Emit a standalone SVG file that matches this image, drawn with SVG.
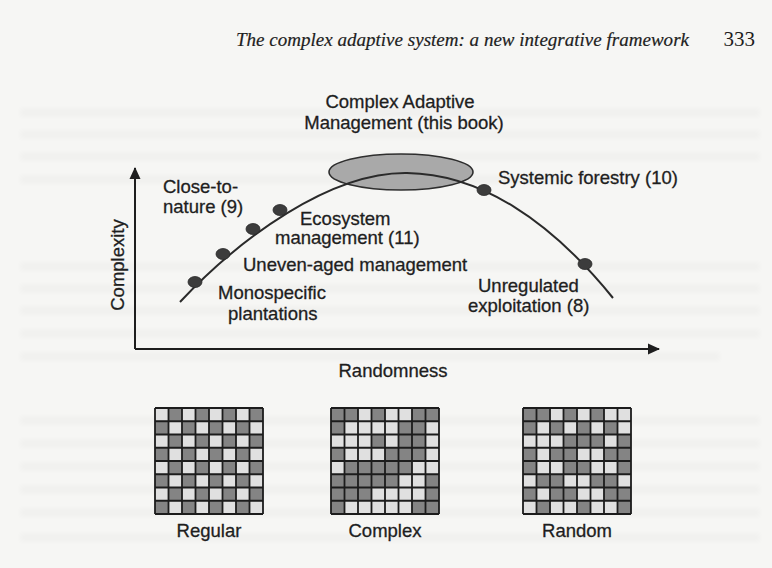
<svg xmlns="http://www.w3.org/2000/svg" xmlns:xlink="http://www.w3.org/1999/xlink" width="772" height="568" viewBox="0 0 772 568">
  <style>
    .lbl { font-family: "Liberation Sans", Arial, sans-serif; font-size: 18.5px; fill: #1e1e1e; stroke: #1e1e1e; stroke-width: 0.3; }
    .hdr { font-family: "Liberation Serif", "Times New Roman", serif; font-style: italic; font-size: 19.5px; fill: #1e1e1e; stroke: #1e1e1e; stroke-width: 0.2; }
    .pg { font-family: "Liberation Serif", "Times New Roman", serif; font-size: 21px; fill: #1e1e1e; }
    .axis { stroke: #1e1e1e; stroke-width: 2; fill: none; }
    .curve { stroke: #2a2a2a; stroke-width: 2; fill: none; }
    .dot { fill: #3c3c3c; stroke: #2a2a2a; stroke-width: 0.8; }
    .dk { fill: #848484; }
    .lt { fill: #e0e0e0; }
    .gl { stroke: #1c1c1c; stroke-width: 1.8; fill: none; }
    .ghost { fill: #000; opacity: 0.018; }
  </style>
  <defs>
    <marker id="arrow" viewBox="0 0 12 12" refX="11" refY="6" markerWidth="12" markerHeight="12" markerUnits="userSpaceOnUse" orient="auto">
      <path d="M0,0.5 L12,6 L0,11.5 Z" fill="#1e1e1e"/>
    </marker>
    <pattern id="checker" x="0" y="0" width="27" height="26.5" patternUnits="userSpaceOnUse">
      <rect width="27" height="26.5" fill="#e0e0e0"/>
      <rect x="13.5" y="0" width="13.5" height="13.25" fill="#848484"/>
      <rect x="0" y="13.25" width="13.5" height="13.25" fill="#848484"/>
    </pattern>
    <path id="lines" class="gl" d="M0,0V106M13.5,0V106M27,0V106M40.5,0V106M54,0V106M67.5,0V106M81,0V106M94.5,0V106M108,0V106M0,0H108M0,13.25H108M0,26.5H108M0,39.75H108M0,53H108M0,66.25H108M0,79.5H108M0,92.75H108M0,106H108"/>
    <filter id="soft" x="-5%" y="-80%" width="110%" height="260%">
      <feGaussianBlur stdDeviation="2.4"/>
    </filter>
  </defs>

  <!-- paper -->
  <rect width="772" height="568" fill="#f6f6f4"/>

  <!-- faint show-through from the reverse side of the sheet -->
  <g class="ghost" filter="url(#soft)">
    <rect x="20" y="108" width="740" height="9"/>
    <rect x="20" y="130" width="740" height="9"/>
    <rect x="20" y="152" width="740" height="9"/>
    <rect x="20" y="175" width="600" height="9"/>
    <rect x="20" y="262" width="740" height="9"/>
    <rect x="20" y="284" width="740" height="9"/>
    <rect x="20" y="306" width="740" height="9"/>
    <rect x="20" y="329" width="740" height="9"/>
    <rect x="20" y="352" width="700" height="9"/>
    <rect x="20" y="416" width="740" height="9"/>
    <rect x="20" y="439" width="740" height="9"/>
    <rect x="20" y="462" width="740" height="9"/>
    <rect x="20" y="485" width="740" height="9"/>
    <rect x="20" y="508" width="740" height="9"/>
    <rect x="20" y="533" width="740" height="9"/>
  </g>

  <!-- running head -->
  <g id="running-head">
    <text class="hdr" x="236" y="46" textLength="453" lengthAdjust="spacingAndGlyphs">The complex adaptive system: a new integrative framework</text>
    <text class="pg" x="755" y="46" text-anchor="end">333</text>
  </g>

  <!-- axes -->
  <g id="axes">
    <path class="axis" d="M135,349 V168" marker-end="url(#arrow)"/>
    <path class="axis" d="M135,349 H659" marker-end="url(#arrow)"/>
    <text class="lbl" transform="translate(124,265) rotate(-90)" text-anchor="middle">Complexity</text>
    <text class="lbl" x="393" y="377" text-anchor="middle">Randomness</text>
  </g>

  <!-- complex adaptive management region -->
  <g id="cam">
    <ellipse cx="401" cy="172" rx="72" ry="18" fill="#a9a9a9" stroke="#2e2e2e" stroke-width="1.6"/>
    <text class="lbl" x="400" y="108" text-anchor="middle">Complex Adaptive</text>
    <text class="lbl" x="404" y="129" text-anchor="middle">Management (this book)</text>
  </g>

  <!-- connectors: the management trajectory -->
  <g id="connectors">
    <path class="curve" d="M180,302 C240,238 330,172 407,173 C480,174 550,220 613,298"/>
  </g>

  <!-- management types along the trajectory -->
  <g id="monospecific">
    <ellipse class="dot" cx="195" cy="282" rx="7" ry="5.5"/>
    <text class="lbl" x="218" y="299">Monospecific</text>
    <text class="lbl" x="228" y="320">plantations</text>
  </g>
  <g id="uneven-aged">
    <ellipse class="dot" cx="223" cy="254" rx="7" ry="5.5"/>
    <text class="lbl" x="243" y="271">Uneven-aged management</text>
  </g>
  <g id="close-to-nature">
    <ellipse class="dot" cx="253" cy="229" rx="7" ry="5.5"/>
    <text class="lbl" x="163" y="193">Close-to-</text>
    <text class="lbl" x="163" y="213">nature (9)</text>
  </g>
  <g id="ecosystem">
    <ellipse class="dot" cx="280" cy="210" rx="7" ry="5.5"/>
    <text class="lbl" x="300" y="225">Ecosystem</text>
    <text class="lbl" x="275" y="244">management (11)</text>
  </g>
  <g id="systemic">
    <ellipse class="dot" cx="484" cy="190" rx="7" ry="5.5"/>
    <text class="lbl" x="498" y="184">Systemic forestry (10)</text>
  </g>
  <g id="unregulated">
    <ellipse class="dot" cx="585" cy="264" rx="7" ry="5.5"/>
    <text class="lbl" x="478" y="292">Unregulated</text>
    <text class="lbl" x="468" y="312">exploitation (8)</text>
  </g>

  <!-- pattern grids -->
  <g id="grid-regular" transform="translate(155,408)">
    <rect width="108" height="106" fill="url(#checker)"/>
    <use href="#lines"/>
  </g>
  <text class="lbl" x="209" y="537" text-anchor="middle">Regular</text>

  <g id="grid-complex" transform="translate(331,408)">
    <rect class="lt" width="108" height="106"/>
    <rect class="dk" x="0" y="0" width="13.5" height="13.25"/>
    <rect class="dk" x="13.5" y="0" width="13.5" height="13.25"/>
    <rect class="dk" x="40.5" y="0" width="13.5" height="13.25"/>
    <rect class="dk" x="81" y="0" width="13.5" height="13.25"/>
    <rect class="dk" x="94.5" y="0" width="13.5" height="13.25"/>
    <rect class="dk" x="0" y="13.25" width="13.5" height="13.25"/>
    <rect class="dk" x="67.5" y="13.25" width="13.5" height="13.25"/>
    <rect class="dk" x="81" y="13.25" width="13.5" height="13.25"/>
    <rect class="dk" x="40.5" y="26.5" width="13.5" height="13.25"/>
    <rect class="dk" x="67.5" y="26.5" width="13.5" height="13.25"/>
    <rect class="dk" x="81" y="26.5" width="13.5" height="13.25"/>
    <rect class="dk" x="0" y="39.75" width="13.5" height="13.25"/>
    <rect class="dk" x="54" y="39.75" width="13.5" height="13.25"/>
    <rect class="dk" x="67.5" y="39.75" width="13.5" height="13.25"/>
    <rect class="dk" x="81" y="39.75" width="13.5" height="13.25"/>
    <rect class="dk" x="13.5" y="53" width="13.5" height="13.25"/>
    <rect class="dk" x="27" y="53" width="13.5" height="13.25"/>
    <rect class="dk" x="40.5" y="53" width="13.5" height="13.25"/>
    <rect class="dk" x="54" y="53" width="13.5" height="13.25"/>
    <rect class="dk" x="67.5" y="53" width="13.5" height="13.25"/>
    <rect class="dk" x="0" y="66.25" width="13.5" height="13.25"/>
    <rect class="dk" x="13.5" y="66.25" width="13.5" height="13.25"/>
    <rect class="dk" x="27" y="66.25" width="13.5" height="13.25"/>
    <rect class="dk" x="40.5" y="66.25" width="13.5" height="13.25"/>
    <rect class="dk" x="54" y="66.25" width="13.5" height="13.25"/>
    <rect class="dk" x="94.5" y="66.25" width="13.5" height="13.25"/>
    <rect class="dk" x="0" y="79.5" width="13.5" height="13.25"/>
    <rect class="dk" x="13.5" y="79.5" width="13.5" height="13.25"/>
    <rect class="dk" x="27" y="79.5" width="13.5" height="13.25"/>
    <rect class="dk" x="94.5" y="79.5" width="13.5" height="13.25"/>
    <rect class="dk" x="0" y="92.75" width="13.5" height="13.25"/>
    <rect class="dk" x="81" y="92.75" width="13.5" height="13.25"/>
    <rect class="dk" x="94.5" y="92.75" width="13.5" height="13.25"/>
    <use href="#lines"/>
  </g>
  <text class="lbl" x="385" y="537" text-anchor="middle">Complex</text>

  <g id="grid-random" transform="translate(523,408)">
    <rect class="lt" width="108" height="106"/>
    <rect class="dk" x="0" y="0" width="13.5" height="13.25"/>
    <rect class="dk" x="13.5" y="0" width="13.5" height="13.25"/>
    <rect class="dk" x="40.5" y="0" width="13.5" height="13.25"/>
    <rect class="dk" x="67.5" y="0" width="13.5" height="13.25"/>
    <rect class="dk" x="0" y="13.25" width="13.5" height="13.25"/>
    <rect class="dk" x="27" y="13.25" width="13.5" height="13.25"/>
    <rect class="dk" x="54" y="13.25" width="13.5" height="13.25"/>
    <rect class="dk" x="81" y="13.25" width="13.5" height="13.25"/>
    <rect class="dk" x="40.5" y="26.5" width="13.5" height="13.25"/>
    <rect class="dk" x="54" y="26.5" width="13.5" height="13.25"/>
    <rect class="dk" x="67.5" y="26.5" width="13.5" height="13.25"/>
    <rect class="dk" x="94.5" y="26.5" width="13.5" height="13.25"/>
    <rect class="dk" x="0" y="39.75" width="13.5" height="13.25"/>
    <rect class="dk" x="27" y="39.75" width="13.5" height="13.25"/>
    <rect class="dk" x="40.5" y="39.75" width="13.5" height="13.25"/>
    <rect class="dk" x="81" y="39.75" width="13.5" height="13.25"/>
    <rect class="dk" x="94.5" y="39.75" width="13.5" height="13.25"/>
    <rect class="dk" x="0" y="53" width="13.5" height="13.25"/>
    <rect class="dk" x="40.5" y="53" width="13.5" height="13.25"/>
    <rect class="dk" x="54" y="53" width="13.5" height="13.25"/>
    <rect class="dk" x="94.5" y="53" width="13.5" height="13.25"/>
    <rect class="dk" x="13.5" y="66.25" width="13.5" height="13.25"/>
    <rect class="dk" x="27" y="66.25" width="13.5" height="13.25"/>
    <rect class="dk" x="67.5" y="66.25" width="13.5" height="13.25"/>
    <rect class="dk" x="81" y="66.25" width="13.5" height="13.25"/>
    <rect class="dk" x="0" y="79.5" width="13.5" height="13.25"/>
    <rect class="dk" x="27" y="79.5" width="13.5" height="13.25"/>
    <rect class="dk" x="40.5" y="79.5" width="13.5" height="13.25"/>
    <rect class="dk" x="81" y="79.5" width="13.5" height="13.25"/>
    <rect class="dk" x="94.5" y="79.5" width="13.5" height="13.25"/>
    <rect class="dk" x="13.5" y="92.75" width="13.5" height="13.25"/>
    <rect class="dk" x="54" y="92.75" width="13.5" height="13.25"/>
    <rect class="dk" x="94.5" y="92.75" width="13.5" height="13.25"/>
    <use href="#lines"/>
  </g>
  <text class="lbl" x="577" y="537" text-anchor="middle">Random</text>
</svg>
